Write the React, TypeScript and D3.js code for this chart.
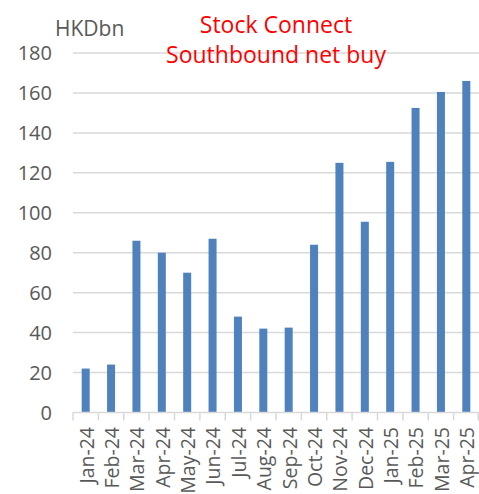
import React from "react";
import * as d3 from "d3";

const categories = ["Jan-24","Feb-24","Mar-24","Apr-24","May-24","Jun-24","Jul-24","Aug-24","Sep-24","Oct-24","Nov-24","Dec-24","Jan-25","Feb-25","Mar-25","Apr-25"];
const values = [22, 24, 86, 80, 70, 87, 48, 42, 42.5, 84, 125, 95.5, 125.5, 152.5, 160.5, 166];
const yTicks = [0, 20, 40, 60, 80, 100, 120, 140, 160, 180];
const titleLines = ["Stock Connect", "Southbound net buy"];
const unitLabel = "HKDbn";

const W = 479, H = 494;
const left = 73, right = 479, top = 53, bottom = 412.5;
const font = "'Open Sans', sans-serif";

export default function App() {
  const xb = d3.scaleBand<string>().domain(categories).range([left, right]);
  const y = d3.scaleLinear().domain([0, 180]).range([bottom, top]);
  return (
    <svg width={W} height={H} style={{ position: "absolute", left: 0, top: 0, background: "#fff" }}>
      {yTicks.map(t => (
        <g key={t}>
          {t > 0 && <line x1={left} x2={right} y1={y(t)} y2={y(t)} stroke="#d9d9d9" strokeWidth={1.5} />}
          <text x={52} y={y(t)} dy="0.36em" textAnchor="end" fontFamily={font} fontSize={20} fill="#595959">{t}</text>
        </g>
      ))}
      {categories.map((c, i) => (
        <rect key={c} x={(xb(c) as number) + xb.bandwidth() / 2 - 4} width={8} y={y(values[i])} height={y(0) - y(values[i])} fill="#4f81bd" />
      ))}
      <line x1={left} x2={right} y1={y(0)} y2={y(0)} stroke="#d9d9d9" strokeWidth={1.5} />
      {[...categories.map(c => xb(c) as number), right - 0.75].map((bx, i) => (
        <line key={i} x1={bx} x2={bx} y1={y(0)} y2={y(0) + 8} stroke="#d9d9d9" strokeWidth={1.5} />
      ))}
      {categories.map(c => {
        const cx = (xb(c) as number) + xb.bandwidth() / 2 + 1;
        return (
          <text key={c} transform={`translate(${cx},427) rotate(-90)`} dy="0.35em" textAnchor="end" fontFamily={font} fontSize={19.5} fill="#595959">{c}</text>
        );
      })}
      <text x={55} y={36} fontFamily={font} fontSize={21} fill="#595959">{unitLabel}</text>
      {titleLines.map((l, i) => (
        <text key={l} x={276} y={33 + i * 30} textAnchor="middle" fontFamily={font} fontSize={23} fill="#ff0000">{l}</text>
      ))}
    </svg>
  );
}
